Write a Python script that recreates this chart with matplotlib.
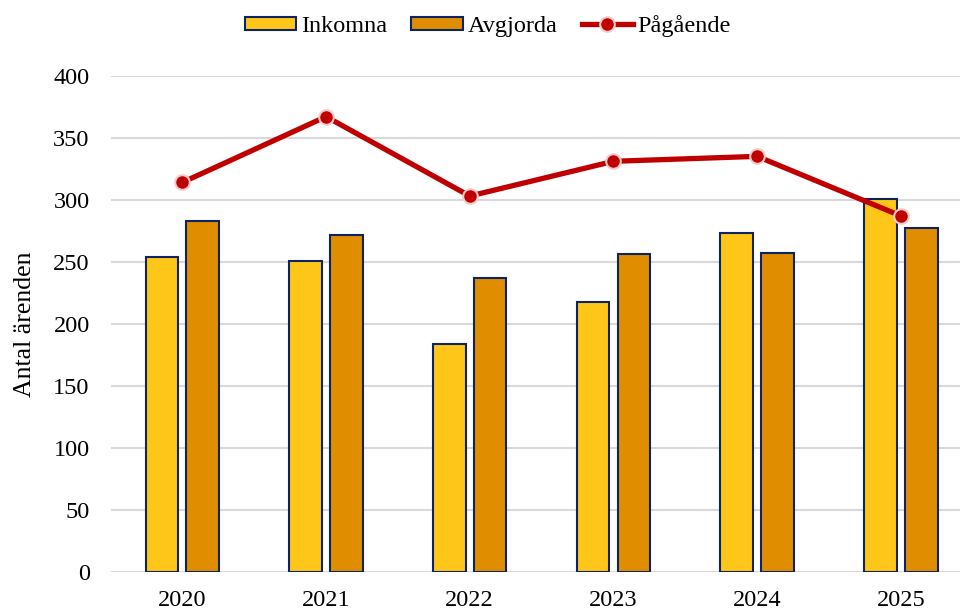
import numpy as np
import matplotlib
matplotlib.use('Agg')
import matplotlib.pyplot as plt

# data
years = ['2020', '2021', '2022', '2023', '2024', '2025']
inkomna = [254, 251, 184, 218, 273, 301]
avgjorda = [283, 272, 237, 256, 257, 277]
pagaende = [314, 367, 303, 331, 335, 287]
yticks = [0, 50, 100, 150, 200, 250, 300, 350, 400]

plt.rcParams['font.family'] = ['Liberation Serif', 'DejaVu Serif']

fig = plt.figure(figsize=(9.6, 6.1), dpi=100)
ax = fig.add_axes([110.5 / 960, 38 / 610, (960 - 110.5) / 960, (572 - 75.7) / 610])

x = np.arange(len(years))
w = 0.227
off = 0.142
edge = '#0d2463'

b1 = ax.bar(x - off, inkomna, w, color='#FFC61A', edgecolor=edge, linewidth=1.5,
            label='Inkomna', zorder=2)
b2 = ax.bar(x + off, avgjorda, w, color='#E08E00', edgecolor=edge, linewidth=1.5,
            label='Avgjorda', zorder=2)
ln, = ax.plot(x, pagaende, color='#C00000', linewidth=3.8, marker='o', markersize=10.5,
              markerfacecolor='#C00000', markeredgecolor='#F6CACA', markeredgewidth=1.5,
              label='Pågående', zorder=3)

ax.set_xlim(-0.5, (960 - 110.5) / 143.7 - 0.5)
ax.set_ylim(0, 400)
ax.set_yticks(yticks)
ax.set_xticks(x)
ax.set_xticklabels(years)
ax.yaxis.grid(True, color='#D9D9D9', linewidth=1.5, zorder=0)
ax.set_axisbelow(True)
for s in ax.spines.values():
    s.set_visible(False)
ax.tick_params(axis='both', length=0, labelsize=17.5, colors='black')
ax.tick_params(axis='y', pad=15)
ax.tick_params(axis='x', pad=13)
ax.set_ylabel('Antal ärenden', fontsize=18.5, labelpad=12)

fig.legend([b1, b2, ln], ['Inkomna', 'Avgjorda', 'Pågående'],
           loc='center', bbox_to_anchor=(488 / 960, 1 - 26 / 610), ncol=3,
           frameon=False, fontsize=17.5, handlelength=2.1, handleheight=0.45,
           columnspacing=1.0, handletextpad=0.2)

fig.savefig('out.png', dpi=100)
